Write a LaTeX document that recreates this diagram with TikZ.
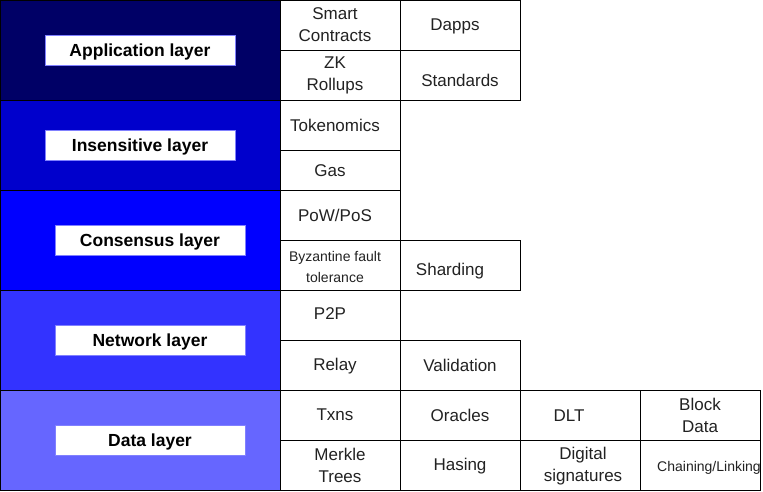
\documentclass[tikz,border=0pt]{standalone}
\usepackage{fontspec}
\setmainfont{Liberation Sans}
\definecolor{appcol}{HTML}{000066}
\definecolor{inscol}{HTML}{0000CC}
\definecolor{concol}{HTML}{0000FF}
\definecolor{netcol}{HTML}{3333FF}
\definecolor{datcol}{HTML}{6666FF}
\definecolor{tagline}{HTML}{8080FF}
\definecolor{celltext}{HTML}{222222}
\tikzset{
  layerbox/.style={draw=black, line width=1pt, minimum width=280pt, inner sep=0pt},
  tagbox/.style={draw=tagline, line width=0.8pt, fill=white, minimum width=190pt,
    minimum height=30pt, inner sep=0pt, font=\fontsize{17.5}{20}\selectfont\bfseries},
  cell/.style={draw=black, line width=1pt, fill=white, minimum width=120pt,
    minimum height=50pt, inner sep=0pt},
  ctext/.style={align=center, inner sep=0pt, text=celltext,
    font=\fontsize{17}{22}\selectfont},
  stext/.style={align=center, inner sep=0pt, text=celltext,
    font=\fontsize{14}{21}\selectfont}
}
\begin{document}
\begin{tikzpicture}[x=1pt,y=-1pt]
\useasboundingbox (0,0) rectangle (763,491);

% layer blocks
\node[layerbox, fill=appcol, minimum height=100pt] (app) at (140.5,50) {};
\node[layerbox, fill=inscol, minimum height=90pt] (ins) at (140.5,145) {};
\node[layerbox, fill=concol, minimum height=100pt] (con) at (140.5,240) {};
\node[layerbox, fill=netcol, minimum height=100pt] (net) at (140.5,340) {};
\node[layerbox, fill=datcol, minimum height=100pt] (dat) at (140.5,440) {};

% layer title boxes and their texts
\node[tagbox] (appt) at (140,50) {};
\node[tagbox] (inst) at (140,145) {};
\node[tagbox] (cont) at (150,240) {};
\node[tagbox] (nett) at (150,340) {};
\node[tagbox] (datt) at (150,440) {};
\node[font=\fontsize{17.5}{20}\selectfont\bfseries, inner sep=0pt] at (140,51.5) {Application layer};
\node[font=\fontsize{17.5}{20}\selectfont\bfseries, inner sep=0pt] at (140,146.5) {Insensitive layer};
\node[font=\fontsize{17.5}{20}\selectfont\bfseries, inner sep=0pt] at (150,241.5) {Consensus layer};
\node[font=\fontsize{17.5}{20}\selectfont\bfseries, inner sep=0pt] at (150,341.5) {Network layer};
\node[font=\fontsize{17.5}{20}\selectfont\bfseries, inner sep=0pt] at (150,441.5) {Data layer};

% application cells
\node[cell] (smart) at (340,25) {};
\node[cell] (dapps) at (460,25) {};
\node[cell] (zk) at (340,75) {};
\node[cell] (std) at (460,75) {};
\node[ctext] at (335,25) {Smart\\Contracts};
\node[ctext] at (455,26.5) {Dapps};
\node[ctext] at (335,75) {ZK\\Rollups};
\node[ctext] at (460,80) {Standards};

% incentive cells
\node[cell] (tok) at (340,125) {};
\node[cell, minimum height=40pt] (gas) at (340,170) {};
\node[ctext] at (335,125) {Tokenomics};
\node[ctext] at (330,171) {Gas};

% consensus cells
\node[cell] (pow) at (340,215) {};
\node[cell] (bft) at (340,265) {};
\node[cell] (shard) at (460,265) {};
\node[ctext] at (335,215) {PoW/PoS};
\node[stext] at (335,266.5) {Byzantine fault\\tolerance};
\node[ctext] at (450,271.5) {Sharding};

% network cells
\node[cell] (p2p) at (340,315) {};
\node[cell] (relay) at (340,365) {};
\node[cell] (valid) at (460,365) {};
\node[ctext] at (330,314) {P2P};
\node[ctext] at (335,366.5) {Relay};
\node[ctext] at (460,365) {Validation};

% data cells
\node[cell] (txns) at (340,415) {};
\node[cell] (orac) at (460,415) {};
\node[cell] (dlt) at (580,415) {};
\node[cell] (block) at (700,415) {};
\node[cell] (merk) at (340,465) {};
\node[cell] (hash) at (460,465) {};
\node[cell] (dsig) at (580,465) {};
\node[cell] (chain) at (700,465) {};
\node[ctext] at (335,415) {Txns};
\node[ctext] at (460,415) {Oracles};
\node[ctext] at (569,416) {DLT};
\node[ctext] at (700,415) {Block\\Data};
\node[ctext] at (340,465) {Merkle\\Trees};
\node[ctext] at (460,466.5) {Hasing};
\node[ctext] at (583,466) {Digital\\signatures};
\node[stext] at (709,467.5) {Chaining/Linking};
\end{tikzpicture}
\end{document}
